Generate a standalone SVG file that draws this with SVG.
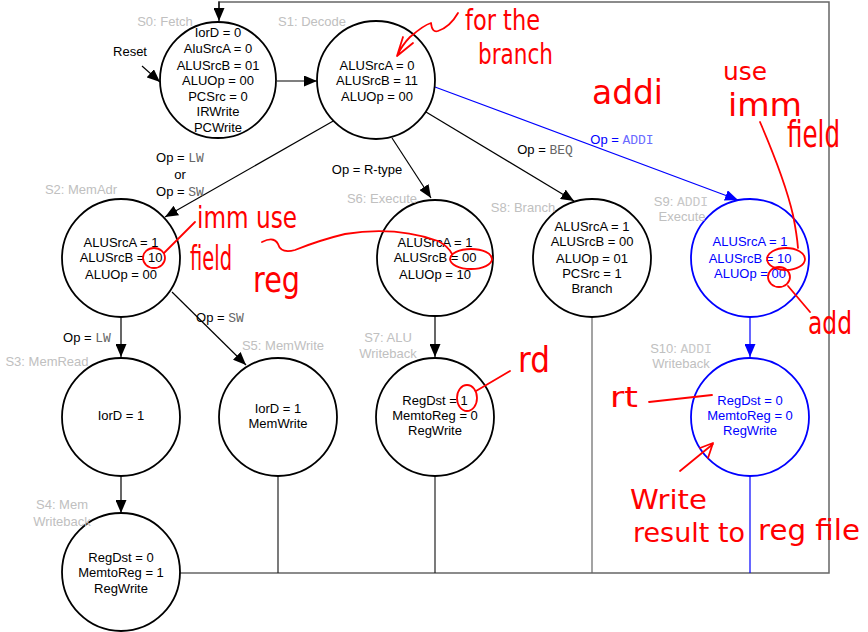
<svg xmlns="http://www.w3.org/2000/svg" width="868" height="632" viewBox="0 0 868 632">
<style>
.st{fill:#fff;stroke:#000;stroke-width:1.8}
.sb{fill:#fff;stroke:#0000ff;stroke-width:1.8}
.t{font-family:"Liberation Sans",Arial,sans-serif;font-size:13px;text-anchor:middle;fill:#000}
.tb{font-family:"Liberation Sans",Arial,sans-serif;font-size:13px;text-anchor:middle;fill:#0000ff}
.lab{font-family:"Liberation Sans",Arial,sans-serif;font-size:13px;text-anchor:middle;fill:#c0c0c0}
.mono{font-family:"Liberation Mono","Courier New",monospace;fill:#666}
.monol{font-family:"Liberation Mono","Courier New",monospace;fill:#c8c8c8}
.monob{font-family:"Liberation Mono","Courier New",monospace;fill:#6a6aff}
.c{fill:none;stroke:#000;stroke-width:1.2}
.cb{fill:none;stroke:#0000ff;stroke-width:1.2}
.fb{fill:none;stroke:#666;stroke-width:1.5}
.r{fill:none;stroke:#ff0000;stroke-width:1.8;stroke-linecap:round;stroke-linejoin:round}
.rt{font-family:"DejaVu Sans","Noto Sans",sans-serif;fill:#ff0000}
</style>
<defs>
<marker id="ah" markerUnits="userSpaceOnUse" markerWidth="13" markerHeight="11" refX="13" refY="5.5" orient="auto"><path d="M0,0 L13,5.5 L0,11 z" fill="#000"/></marker>
<marker id="ahb" markerUnits="userSpaceOnUse" markerWidth="13" markerHeight="11" refX="13" refY="5.5" orient="auto"><path d="M0,0 L13,5.5 L0,11 z" fill="#0000ff"/></marker>
</defs>

<g id="connectors">
<path class="fb" d="M180,573 H829 V2 H219 V8"/>
<line x1="219" y1="1.5" x2="219" y2="21" class="c" marker-end="url(#ah)"/>
<line x1="278" y1="476" x2="278" y2="573" stroke="#222" stroke-width="1.2"/>
<line x1="435" y1="476" x2="435" y2="573" stroke="#222" stroke-width="1.2"/>
<line x1="592" y1="317" x2="592" y2="573" stroke="#666" stroke-width="1.2"/>
<line x1="750" y1="476" x2="750" y2="573" stroke="#0000ff" stroke-width="1.2"/>
<line x1="142" y1="66" x2="160" y2="82" class="c" marker-end="url(#ah)"/>
<line x1="277" y1="81" x2="317" y2="81" class="c" marker-end="url(#ah)"/>
<line x1="335" y1="120" x2="165" y2="217" class="c" marker-end="url(#ah)"/>
<line x1="392" y1="138" x2="431" y2="198" class="c" marker-end="url(#ah)"/>
<line x1="426" y1="112" x2="574" y2="201" class="c" marker-end="url(#ah)"/>
<line x1="435" y1="87" x2="738" y2="200" class="cb" marker-end="url(#ahb)"/>
<line x1="121" y1="317" x2="121" y2="357" class="c" marker-end="url(#ah)"/>
<line x1="172" y1="292" x2="246" y2="365" class="c" marker-end="url(#ah)"/>
<line x1="121" y1="476" x2="121" y2="513" class="c" marker-end="url(#ah)"/>
<line x1="435" y1="317" x2="435" y2="357" class="c" marker-end="url(#ah)"/>
<line x1="750" y1="317" x2="750" y2="357" class="cb" marker-end="url(#ahb)"/>
<text class="t" x="130" y="56">Reset</text>
<text class="t" x="180" y="162">Op = <tspan class="mono">LW</tspan></text>
<text class="t" x="180" y="179">or</text>
<text class="t" x="180" y="196">Op = <tspan class="mono">SW</tspan></text>
<text class="t" x="367" y="174">Op = R-type</text>
<text class="t" x="545" y="154">Op = <tspan class="mono">BEQ</tspan></text>
<text class="tb" x="622" y="144" fill="#3333ff">Op = <tspan class="monob">ADDI</tspan></text>
<text class="t" x="87" y="342">Op = <tspan class="mono">LW</tspan></text>
<text class="t" x="220" y="322">Op = <tspan class="mono">SW</tspan></text>
</g>

<g id="S0">
<circle class="st" cx="218" cy="80" r="58"/>
<text class="lab" x="165" y="26">S0: Fetch</text>
<text class="t" x="218" y="37">IorD = 0</text>
<text class="t" x="218" y="53">AluSrcA = 0</text>
<text class="t" x="218" y="70">ALUSrcB = 01</text>
<text class="t" x="218" y="85">ALUOp = 00</text>
<text class="t" x="218" y="101">PCSrc = 0</text>
<text class="t" x="218" y="116">IRWrite</text>
<text class="t" x="218" y="132">PCWrite</text>
</g>
<g id="S1">
<circle class="st" cx="376" cy="80" r="59"/>
<text class="lab" x="312" y="26">S1: Decode</text>
<text class="t" x="377" y="70">ALUSrcA = 0</text>
<text class="t" x="377" y="85">ALUSrcB = 11</text>
<text class="t" x="377" y="101">ALUOp = 00</text>
</g>
<g id="S2">
<circle class="st" cx="121" cy="258" r="59"/>
<text class="lab" x="81" y="194">S2: MemAdr</text>
<text class="t" x="121" y="247">ALUSrcA = 1</text>
<text class="t" x="121" y="262">ALUSrcB = 10</text>
<text class="t" x="121" y="279">ALUOp = 00</text>
</g>
<g id="S6">
<circle class="st" cx="435" cy="258" r="58"/>
<text class="lab" x="382" y="203">S6: Execute</text>
<text class="t" x="435" y="247">ALUSrcA = 1</text>
<text class="t" x="435" y="262">ALUSrcB = 00</text>
<text class="t" x="435" y="279">ALUOp = 10</text>
</g>
<g id="S8">
<circle class="st" cx="592" cy="258" r="59"/>
<text class="lab" x="523" y="212">S8: Branch</text>
<text class="t" x="592" y="231">ALUSrcA = 1</text>
<text class="t" x="592" y="246">ALUSrcB = 00</text>
<text class="t" x="592" y="263">ALUOp = 01</text>
<text class="t" x="592" y="278">PCSrc = 1</text>
<text class="t" x="592" y="293">Branch</text>
</g>
<g id="S9">
<circle class="sb" cx="750" cy="258" r="59"/>
<text class="lab" x="681" y="206">S9: <tspan class="monol">ADDI</tspan></text>
<text class="lab" x="682" y="221">Execute</text>
<text class="tb" x="750" y="246">ALUSrcA = 1</text>
<text class="tb" x="750" y="263">ALUSrcB = 10</text>
<text class="tb" x="750" y="278">ALUOp = 00</text>
</g>
<g id="S3">
<circle class="st" cx="121" cy="417" r="59"/>
<text class="lab" x="47" y="366">S3: MemRead</text>
<text class="t" x="121" y="420">IorD = 1</text>
</g>
<g id="S5">
<circle class="st" cx="278" cy="417" r="59"/>
<text class="lab" x="283" y="350">S5: MemWrite</text>
<text class="t" x="278" y="413">IorD = 1</text>
<text class="t" x="278" y="428">MemWrite</text>
</g>
<g id="S7">
<circle class="st" cx="435" cy="417" r="59"/>
<text class="lab" x="388" y="342">S7: ALU</text>
<text class="lab" x="388" y="358">Writeback</text>
<text class="t" x="435" y="405">RegDst = 1</text>
<text class="t" x="435" y="420">MemtoReg = 0</text>
<text class="t" x="435" y="435">RegWrite</text>
</g>
<g id="S10">
<circle class="sb" cx="750" cy="417" r="59"/>
<text class="lab" x="681" y="353">S10: <tspan class="monol">ADDI</tspan></text>
<text class="lab" x="681" y="368">Writeback</text>
<text class="tb" x="750" y="405">RegDst = 0</text>
<text class="tb" x="750" y="420">MemtoReg = 0</text>
<text class="tb" x="750" y="435">RegWrite</text>
</g>
<g id="S4">
<circle class="st" cx="121" cy="572" r="59"/>
<text class="lab" x="62" y="509">S4: Mem</text>
<text class="lab" x="62" y="526">Writeback</text>
<text class="t" x="121" y="562">RegDst = 0</text>
<text class="t" x="121" y="577">MemtoReg = 1</text>
<text class="t" x="121" y="593">RegWrite</text>
</g>

<g id="annotations">
<path class="r" d="M458,13 Q450,27 438,31 Q432,33 431,23 Q424,25 410,37 Q402,45 397,56 M403,37 L397,56 L413,43"/>
<text class="rt" x="465" y="30" font-size="28" textLength="75" lengthAdjust="spacingAndGlyphs">for the</text>
<text class="rt" x="478" y="64" font-size="28" textLength="75" lengthAdjust="spacingAndGlyphs">branch</text>
<text class="rt" x="592" y="104" font-size="34" textLength="71" lengthAdjust="spacingAndGlyphs">addi</text>
<text class="rt" x="723" y="80" font-size="24" textLength="44" lengthAdjust="spacingAndGlyphs">use</text>
<text class="rt" x="728" y="116" font-size="32" textLength="74" lengthAdjust="spacingAndGlyphs">imm</text>
<text class="rt" x="787" y="147" font-size="38" textLength="53" lengthAdjust="spacingAndGlyphs">field</text>
<path class="r" d="M760,122 Q785,180 793,215 Q797,235 798,248"/>
<ellipse class="r" cx="786" cy="259" rx="19" ry="11"/>
<ellipse class="r" cx="779" cy="277" rx="11" ry="10"/>
<path class="r" d="M788,286 L810,312"/>
<text class="rt" x="808" y="334" font-size="32" textLength="44" lengthAdjust="spacingAndGlyphs">add</text>
<ellipse class="r" cx="154" cy="258" rx="11" ry="10"/>
<path class="r" d="M164,253 L195,222"/>
<text class="rt" x="197" y="228" font-size="30" textLength="100" lengthAdjust="spacingAndGlyphs">imm use</text>
<text class="rt" x="190" y="270" font-size="34" textLength="42" lengthAdjust="spacingAndGlyphs">field</text>
<path class="r" d="M262,242 Q274,236 278,244 Q281,254 295,250 Q320,240 345,234 Q395,226 438,241 Q448,246 452,254"/>
<ellipse class="r" cx="471" cy="259" rx="21" ry="10"/>
<text class="rt" x="253" y="292" font-size="36" textLength="47" lengthAdjust="spacingAndGlyphs">reg</text>
<ellipse class="r" cx="467" cy="398" rx="10" ry="13"/>
<path class="r" d="M476,391 L510,371"/>
<text class="rt" x="518" y="372" font-size="36" textLength="32" lengthAdjust="spacingAndGlyphs">rd</text>
<text class="rt" x="610" y="407" font-size="28" textLength="28" lengthAdjust="spacingAndGlyphs">rt</text>
<path class="r" d="M649,402 L712,395"/>
<path class="r" d="M680,471 L713,444 M700,448 L713,443 L708,458"/>
<text class="rt" x="630" y="509" font-size="27" textLength="77" lengthAdjust="spacingAndGlyphs">Write</text>
<text class="rt" x="633" y="542" font-size="27" textLength="112" lengthAdjust="spacingAndGlyphs">result to</text>
<text class="rt" x="758" y="540" font-size="29" textLength="102" lengthAdjust="spacingAndGlyphs">reg file</text>
</g>
</svg>
